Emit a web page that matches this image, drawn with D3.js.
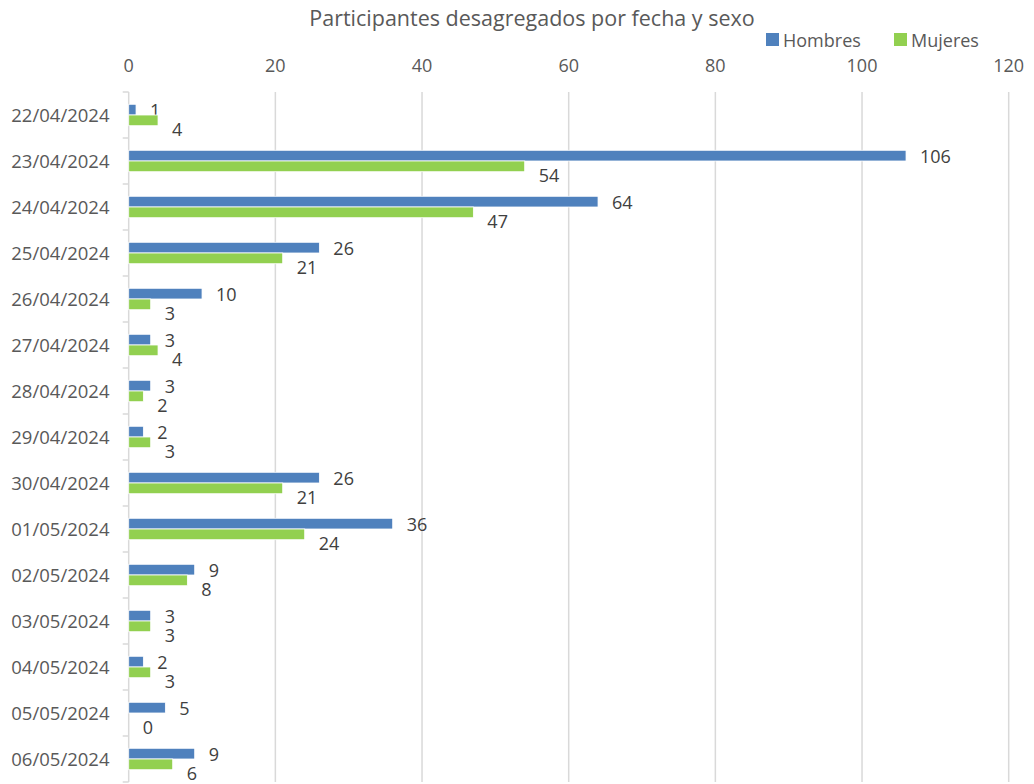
<!DOCTYPE html>
<html><head><meta charset="utf-8">
<script src="https://cdn.jsdelivr.net/npm/d3@7"></script>
<style>body{margin:0;background:#fff}text{font-family:"Open Sans",sans-serif}</style>
</head><body><svg id="c" width="1034" height="784"></svg>
<script>
const categories=["22/04/2024","23/04/2024","24/04/2024","25/04/2024","26/04/2024","27/04/2024","28/04/2024","29/04/2024","30/04/2024","01/05/2024","02/05/2024","03/05/2024","04/05/2024","05/05/2024","06/05/2024"];
const hombres=[1,106,64,26,10,3,3,2,26,36,9,3,2,5,9];
const mujeres=[4,54,47,21,3,4,2,3,21,24,8,3,3,0,6];
const seriesNames=["Hombres","Mujeres"];
const colors=["#4F81BD","#92D050"];
const xTicks=[0,20,40,60,80,100,120];
const title="Participantes desagregados por fecha y sexo";

const svg=d3.select("#c");
const x=d3.scaleLinear().domain([0,120]).range([128.7,1008.7]);
const y=d3.scaleBand().domain(categories).range([92,782]);
const bw=y.bandwidth();
const bh=bw*0.233;

svg.append("g").selectAll("line").data(xTicks.filter(d=>d>0)).join("line")
 .attr("x1",d=>x(d)).attr("x2",d=>x(d)).attr("y1",92).attr("y2",782)
 .attr("stroke","#d9d9d9").attr("stroke-width",1.5);
svg.append("line").attr("x1",x(0)).attr("x2",x(0)).attr("y1",92).attr("y2",782).attr("stroke","#d9d9d9").attr("stroke-width",1.5);
const bounds=categories.map(c=>y(c)).concat([782]);
svg.append("g").selectAll("line").data(bounds).join("line")
 .attr("x1",x(0)-6).attr("x2",x(0)).attr("y1",d=>d).attr("y2",d=>d)
 .attr("stroke","#d9d9d9").attr("stroke-width",1.5);
svg.append("g").selectAll("text").data(xTicks).join("text")
 .attr("x",d=>x(d)).attr("y",71.5).attr("text-anchor","middle")
 .attr("font-size",18).attr("fill","#595959").text(d=>d);
svg.append("g").selectAll("text").data(categories).join("text")
 .attr("x",109.5).attr("y",d=>y(d)+bw/2+6.6).attr("text-anchor","end")
 .attr("font-size",18.5).attr("fill","#595959").text(d=>d);

const series=[hombres,mujeres];
series.forEach((vals,si)=>{
  const g=svg.append("g");
  g.selectAll("rect").data(vals).join("rect")
   .attr("x",x(0)).attr("width",d=>x(d)-x(0))
   .attr("y",(d,i)=>y(categories[i])+bw/2-bh+si*bh).attr("height",bh)
   .attr("fill",colors[si]).attr("stroke",d=>d>0?"#ffffff":"none").attr("stroke-width",0.8);
  g.selectAll("text").data(vals).join("text")
   .attr("x",d=>x(d)+14)
   .attr("y",(d,i)=>{const c=y(categories[i])+bw/2-bh+si*bh+bh/2; return (si===0?c+0.5:c+9.5)+6.4;})
   .attr("font-size",18).attr("fill","#404040").text(d=>d);
});

svg.append("text").attr("x",532).attr("y",26).attr("text-anchor","middle")
 .attr("font-size",21.5).attr("fill","#595959").text(title);
const lx=[766,894];
seriesNames.forEach((n,i)=>{
  svg.append("rect").attr("x",lx[i]).attr("y",33).attr("width",13).attr("height",13).attr("fill",colors[i]);
  svg.append("text").attr("x",lx[i]+17).attr("y",46.5).attr("font-size",18).attr("fill","#595959").text(n);
});
</script></body></html>
